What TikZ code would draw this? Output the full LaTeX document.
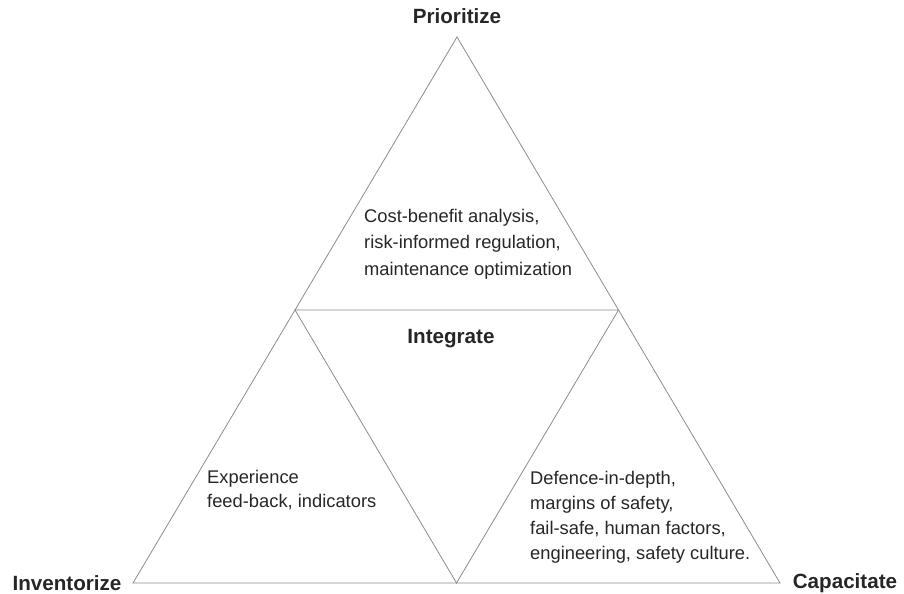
\documentclass[tikz,border=0pt]{standalone}
\usepackage{fontspec}
\setmainfont{Liberation Sans}
\usetikzlibrary{positioning}

\tikzset{
  edge/.style={draw=black!45,line width=0.8bp,line join=miter},
  corner/.style={font=\fontsize{20.7}{24}\selectfont\bfseries,text=black!85,inner sep=0pt},
  note/.style={font=\fontsize{18.4}{#1}\selectfont,text=black!85,align=left,inner sep=0pt,anchor=west},
  note/.default=25,
}

\begin{document}
\begin{tikzpicture}[x=1bp,y=1bp]
\useasboundingbox (0bp,0bp) rectangle (904bp,594bp);
%%
\coordinate (top) at (457bp,557bp);
  \coordinate (left) at (133bp,11bp);
  \coordinate (right) at (780bp,11bp);
  \coordinate (midleft) at (295bp,284bp);
  \coordinate (midright) at (618.5bp,284bp);
  \coordinate (midbottom) at (456.5bp,11bp);
  \node (prioritize) at (457bp,578bp) [corner] {Prioritize};
  \node (inventorize) at (67bp,11bp) [corner] {Inventorize};
  \node (capacitate) at (845bp,11bp) [corner] {Capacitate};
  \node (integrate) at (451bp,255bp) [corner] {Integrate};
  \node (costbenefit) at (364bp,350bp) [note=26.5] {Cost-benefit analysis,\\risk-informed regulation,\\maintenance optimization};
  \node (experience) at (207bp,104bp) [note=23.5] {Experience\\feed-back, indicators};
  \node (defence) at (530bp,77bp) [note=25] {Defence-in-depth,\\margins of safety,\\fail-safe, human factors,\\engineering, safety culture.};
  \draw [edge] (top) -- (left) -- (right) -- cycle;
  \draw [edge] (midleft) -- (midright) -- (midbottom) -- cycle;
%
\end{tikzpicture}
\end{document}
